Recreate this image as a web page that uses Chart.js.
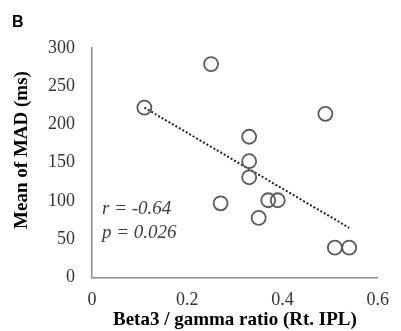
<!DOCTYPE html>
<html>
<head>
<meta charset="utf-8">
<script src="https://cdn.jsdelivr.net/npm/chart.js@4/dist/chart.umd.min.js"></script>
<style>
  body { margin: 0; background: #fff; }
  #grafico { display: block; }
</style>
</head>
<body>
<canvas id="grafico" width="401" height="331"></canvas>
<script>
// datos
const ratioBeta3 = [0.11, 0.25, 0.49, 0.33, 0.33, 0.33, 0.27, 0.37, 0.39, 0.35, 0.51, 0.54];
const meanMAD = [222, 279, 214, 184, 152, 131, 97, 101, 101, 78, 39, 39];
const trendX = [0.11, 0.54];
const trendY = [222, 65];
const xTicks = [0, 0.2, 0.4, 0.6];
const yTicks = [0, 50, 100, 150, 200, 250, 300];

const puntos = ratioBeta3.map((x, i) => ({ x: x, y: meanMAD[i] }));
const tendencia = trendX.map((x, i) => ({ x: x, y: trendY[i] }));

const serif = '"Liberation Serif", "Times New Roman", serif';

// textos extra: letra del panel, titulo eje y, r y p
const textos = {
    id: 'textos',
    afterDraw(chart) {
        const ctx = chart.ctx;
        ctx.save();
        ctx.fillStyle = '#000';
        ctx.font = 'bold 16px "Liberation Sans", Arial, sans-serif';
        ctx.textAlign = 'left';
        ctx.textBaseline = 'top';
        ctx.fillText('B', 12, 15);

        ctx.save();
        ctx.translate(22, 150);
        ctx.rotate(-Math.PI / 2);
        ctx.font = 'bold 19px ' + serif;
        ctx.textAlign = 'center';
        ctx.textBaseline = 'middle';
        ctx.fillText('Mean of MAD (ms)', 0, 0);
        ctx.restore();

        ctx.fillStyle = '#404040';
        ctx.font = 'italic 19px ' + serif;
        ctx.textAlign = 'left';
        ctx.textBaseline = 'middle';
        ctx.fillText('r = -0.64', 102, 209);
        ctx.fillText('p = 0.026', 102, 233);
        ctx.restore();
    }
};

const data = {
    datasets: [
        {
            label: 'Mean of MAD',
            data: puntos,
            pointRadius: 7,
            pointHoverRadius: 7,
            pointBorderWidth: 1.8,
            pointBorderColor: '#5a5a5a',
            pointBackgroundColor: 'rgba(0,0,0,0)',
            showLine: false
        },
        {
            type: 'line',
            label: 'tendencia',
            data: tendencia,
            borderColor: '#222',
            borderWidth: 2,
            borderDash: [2, 2],
            pointRadius: 0,
            fill: false
        }
    ]
};

const config = {
    type: 'scatter',
    data: data,
    options: {
        responsive: false,
        animation: false,
        layout: { padding: { top: 48, right: 11, left: 0, bottom: 0 } },
        plugins: {
            legend: { display: false },
            tooltip: { enabled: false }
        },
        scales: {
            x: {
                type: 'linear',
                min: 0,
                max: 0.6,
                afterBuildTicks: (s) => { s.ticks = xTicks.map(v => ({ value: v })); },
                afterFit: (s) => { s.height = 53.5; },
                grid: { display: false, drawTicks: false },
                border: { color: '#8c8c8c', width: 1.5 },
                ticks: {
                    padding: 12,
                    color: '#333',
                    font: { family: serif, size: 18 },
                    callback: (v) => v === 0 ? '0' : v.toFixed(1)
                },
                title: {
                    display: true,
                    text: 'Beta3 / gamma ratio (Rt. IPL)',
                    color: '#000',
                    font: { family: serif, size: 19, weight: 'bold' },
                    padding: { top: 0, bottom: 0 }
                }
            },
            y: {
                min: 0,
                max: 300,
                afterBuildTicks: (s) => { s.ticks = yTicks.map(v => ({ value: v })); },
                afterFit: (s) => { s.width = 92; },
                grid: { display: false, drawTicks: false },
                border: { color: '#8c8c8c', width: 1.5 },
                ticks: {
                    padding: 17,
                    color: '#333',
                    font: { family: serif, size: 18 }
                }
            }
        }
    },
    plugins: [textos]
};

new Chart(document.getElementById('grafico'), config);
</script>
</body>
</html>
